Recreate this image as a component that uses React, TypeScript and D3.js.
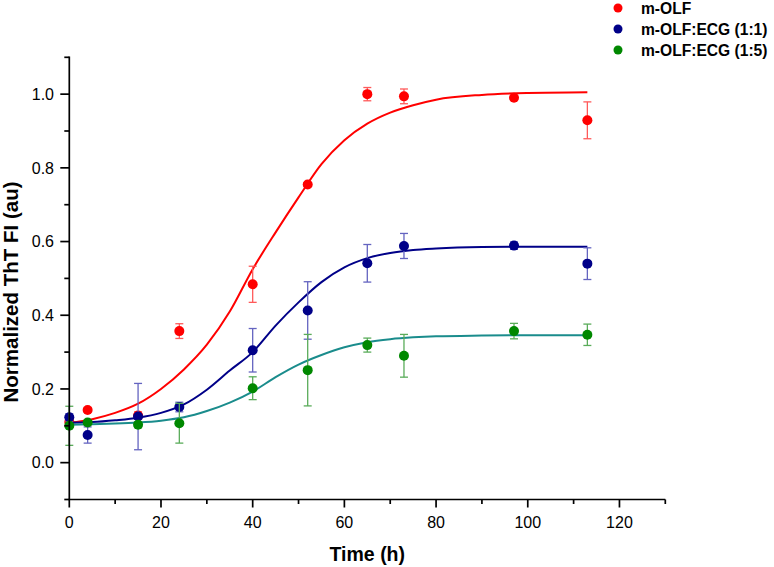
import React from 'react'
import * as d3 from 'd3'

// measured time points (h)
const times = [0, 4, 15, 24, 40, 52, 65, 73, 97, 113]

const olf = [0.11, 0.143, 0.128, 0.357, 0.484, 0.755, 1.0, 0.994, 0.99, 0.929]
const olfErr = [0.005, 0.006, 0.01, 0.02, 0.049, 0.005, 0.018, 0.02, 0.006, 0.05]

const ecg11 = [0.123, 0.075, 0.125, 0.151, 0.305, 0.413, 0.541, 0.588, 0.589, 0.54]
const ecg11Err = [0.01, 0.022, 0.09, 0.013, 0.059, 0.078, 0.051, 0.034, 0.01, 0.043]

const ecg15 = [0.1, 0.109, 0.103, 0.107, 0.202, 0.251, 0.319, 0.29, 0.357, 0.347]
const ecg15Err = [0.053, 0.005, 0.008, 0.054, 0.031, 0.097, 0.019, 0.058, 0.021, 0.029]

// fitted curves
const fitTimes = [0, 5, 10, 15, 20, 25, 30, 35, 40, 45, 50, 55, 60, 65, 70, 75, 80, 90, 100, 113]
const olfFit = [0.108, 0.118, 0.135, 0.16, 0.2, 0.253, 0.32, 0.41, 0.525, 0.625, 0.72, 0.81, 0.875, 0.92, 0.95, 0.97, 0.985, 0.998, 1.003, 1.005]
const ecg11Fit = [0.108, 0.11, 0.115, 0.122, 0.135, 0.158, 0.198, 0.25, 0.3, 0.372, 0.435, 0.49, 0.53, 0.555, 0.569, 0.577, 0.581, 0.585, 0.586, 0.586]
const ecg15Fit = [0.103, 0.104, 0.106, 0.109, 0.114, 0.123, 0.14, 0.163, 0.193, 0.232, 0.266, 0.292, 0.313, 0.327, 0.335, 0.34, 0.343, 0.345, 0.346, 0.346]

const xTicks = [0, 20, 40, 60, 80, 100, 120]
const xMinor = [10, 30, 50, 70, 90, 110, 130]
const yTicks = [0, 0.2, 0.4, 0.6, 0.8, 1.0]
const yMinor = [-0.1, 0.1, 0.3, 0.5, 0.7, 0.9, 1.1]

const series = [
  { name: 'm-OLF', values: olf, err: olfErr, fit: olfFit, dot: '#ff0000', line: '#ff0000', bar: '#ff5a5a' },
  { name: 'm-OLF:ECG (1:1)', values: ecg11, err: ecg11Err, fit: ecg11Fit, dot: '#000088', line: '#000088', bar: '#6464c0' },
  { name: 'm-OLF:ECG (1:5)', values: ecg15, err: ecg15Err, fit: ecg15Fit, dot: '#008800', line: '#1a8c8c', bar: '#5aac5a' },
]

const W = 774
const H = 567
const font = "'Liberation Sans', Arial, Helvetica, sans-serif"

export default function App() {
  const x = d3.scaleLinear().domain([0, 130]).range([69.3, 665.3])
  const y = d3.scaleLinear().domain([-0.1, 1.1]).range([499.5, 57.3])

  const line = d3
    .line<number>()
    .x((_, i) => x(fitTimes[i]))
    .y(d => y(d))
    .curve(d3.curveMonotoneX)

  const x0 = x(0)
  const yBase = y(-0.1)

  return (
    <svg
      width={W}
      height={H}
      style={{ position: 'absolute', left: 0, top: 0, background: '#fff' }}
      fontFamily={font}
    >
      {/* curves + points */}
      {series.map(s => (
        <g key={s.name}>
          <path d={line(s.fit) || ''} fill="none" stroke={s.line} strokeWidth={2} />
          {times.map((t, i) => {
            const cx = x(t)
            const top = y(s.values[i] + s.err[i])
            const bot = y(s.values[i] - s.err[i])
            return (
              <g key={t} stroke={s.bar} strokeWidth={1.3}>
                <line x1={cx} x2={cx} y1={top} y2={bot} />
                <line x1={cx - 4} x2={cx + 4} y1={top} y2={top} />
                <line x1={cx - 4} x2={cx + 4} y1={bot} y2={bot} />
              </g>
            )
          })}
          {times.map((t, i) => (
            <circle key={t} cx={x(t)} cy={y(s.values[i])} r={5} fill={s.dot} />
          ))}
        </g>
      ))}

      {/* axes */}
      <g stroke="#000" strokeWidth={1.7}>
        <line x1={x0} x2={x0} y1={y(1.1) - 0.8} y2={yBase} />
        <line x1={x0 - 0.8} x2={x(130)} y1={yBase} y2={yBase} />
        {yTicks.map(v => (
          <line key={v} x1={x0 - 9} x2={x0} y1={y(v)} y2={y(v)} />
        ))}
        {yMinor.map(v => (
          <line key={v} x1={x0 - 5} x2={x0} y1={y(v)} y2={y(v)} />
        ))}
        {xTicks.map(v => (
          <line key={v} x1={x(v)} x2={x(v)} y1={yBase} y2={yBase + 8} />
        ))}
        {xMinor.map(v => (
          <line key={v} x1={x(v)} x2={x(v)} y1={yBase} y2={yBase + 4.5} />
        ))}
      </g>

      <g fontSize={16} fill="#000">
        {yTicks.map(v => (
          <text key={v} x={54} y={y(v)} dy="0.36em" textAnchor="end">
            {d3.format('.1f')(v)}
          </text>
        ))}
        {xTicks.map(v => (
          <text key={v} x={x(v)} y={528} textAnchor="middle">
            {v}
          </text>
        ))}
      </g>

      <text x={(x(0) + x(130)) / 2} y={561} textAnchor="middle" fontSize={19.5} fontWeight="bold">
        Time (h)
      </text>
      <text
        transform="translate(17.5,292) rotate(-90)"
        textAnchor="middle"
        fontSize={20.5}
        fontWeight="bold"
      >
        Normalized ThT FI (au)
      </text>

      {/* legend */}
      {series.map((s, i) => (
        <g key={s.name} transform={`translate(618,${8 + i * 21})`}>
          <circle r={4.5} fill={s.dot} />
          <text x={23} dy="0.36em" fontSize={15.6} fontWeight="bold">
            {s.name}
          </text>
        </g>
      ))}
    </svg>
  )
}
